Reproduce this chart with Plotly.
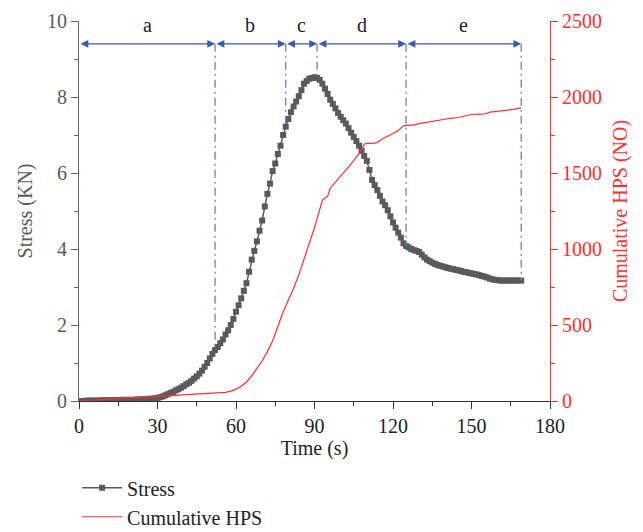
import plotly.graph_objects as go

# ---------------- data ----------------
time_s = list(range(0, 170))
stress_kn = [
    0.00, 0.00, 0.00, 0.01, 0.01, 0.01, 0.01, 0.01, 0.01, 0.02,
    0.02, 0.02, 0.02, 0.02, 0.02, 0.02, 0.03, 0.03, 0.03, 0.03,
    0.03, 0.03, 0.04, 0.04, 0.04, 0.05, 0.05, 0.06, 0.06, 0.07,
    0.08, 0.10, 0.12, 0.15, 0.18, 0.21, 0.24, 0.28, 0.31, 0.35,
    0.39, 0.44, 0.48, 0.53, 0.59, 0.65, 0.72, 0.80, 0.90, 1.00,
    1.12, 1.24, 1.34, 1.42, 1.52, 1.62, 1.75, 1.86, 2.00, 2.16,
    2.35, 2.52, 2.70, 2.90, 3.10, 3.40, 3.72, 3.95, 4.20, 4.48,
    4.75, 5.12, 5.45, 5.72, 6.05, 6.25, 6.50, 6.72, 7.00, 7.22,
    7.42, 7.60, 7.75, 7.88, 8.02, 8.18, 8.35, 8.42, 8.48, 8.50,
    8.52, 8.50, 8.45, 8.35, 8.22, 8.08, 7.93, 7.82, 7.70, 7.58,
    7.48, 7.39, 7.30, 7.18, 7.06, 6.95, 6.84, 6.72, 6.58, 6.45,
    6.32, 6.08, 5.82, 5.68, 5.55, 5.40, 5.25, 5.15, 5.02, 4.86,
    4.70, 4.56, 4.43, 4.30, 4.15, 4.08, 4.04, 4.00, 3.97, 3.95,
    3.92, 3.85, 3.78, 3.72, 3.68, 3.64, 3.61, 3.58, 3.56, 3.54,
    3.52, 3.50, 3.48, 3.47, 3.45, 3.44, 3.42, 3.40, 3.39, 3.37,
    3.36, 3.34, 3.33, 3.31, 3.29, 3.27, 3.25, 3.22, 3.20, 3.19,
    3.18, 3.17, 3.17, 3.17, 3.17, 3.17, 3.17, 3.17, 3.17, 3.17,
]

hps_time = [0, 5, 10, 15, 20, 25, 30, 35, 40, 45, 50, 53, 56, 58, 60, 62, 64, 66,
            68, 70, 72, 74, 76, 78, 80, 82, 84, 86, 88, 90, 91, 92, 93, 94, 95,
            96, 98, 100, 102, 104, 106, 108, 109, 110, 112, 114, 116, 118, 120,
            122, 124, 126, 128, 130, 133, 136, 139, 142, 145, 148, 150, 153, 155,
            157, 159, 162, 164, 166, 168, 169]
hps_count = [0, 6, 12, 17, 22, 26, 30, 35, 39, 42, 47, 51, 57, 65, 78, 97, 125, 165,
             215, 265, 325, 395, 490, 585, 665, 740, 830, 930, 1030, 1140, 1200, 1270,
             1320, 1335, 1345, 1400, 1440, 1475, 1515, 1560, 1605, 1650, 1690, 1695,
             1695, 1700, 1725, 1740, 1760, 1780, 1810, 1815, 1815, 1825, 1835, 1840,
             1852, 1860, 1865, 1878, 1885, 1887, 1888, 1900, 1903, 1910, 1915, 1918,
             1925, 1928]

phase_bounds = [0, 52, 79, 91, 125, 169]
phase_labels = ["a", "b", "c", "d", "e"]
arrow_level = 9.4
label_level = 9.9

# ---------------- style ----------------
FONT = "Liberation Serif"
FS = 20
GRAY = "#5a5a5a"
RED = "#ff3030"
BLUE = "#3d5aaf"
VBLUE = "#6b80c4"

fig = go.Figure()
fig.add_trace(go.Scatter(
    x=time_s, y=stress_kn, name="Stress", mode="lines+markers",
    line=dict(color=GRAY, width=1.5),
    marker=dict(symbol="square", size=6, color=GRAY),
))
fig.add_trace(go.Scatter(
    x=hps_time, y=hps_count, name="Cumulative HPS", mode="lines",
    line=dict(color=RED, width=1.2), yaxis="y2",
))

# vertical dash-dot boundaries (from arrow level down to stress curve)
for t in phase_bounds[1:]:
    s_val = stress_kn[time_s.index(t)]
    fig.add_shape(type="line", xref="x", yref="y", x0=t, x1=t,
                  y0=arrow_level, y1=s_val,
                  line=dict(color=VBLUE, width=1.3, dash="8px,4px,2px,4px"))

# double arrows and labels
for i, lab in enumerate(phase_labels):
    t0, t1 = phase_bounds[i], phase_bounds[i + 1]
    fig.add_annotation(x=t1, y=arrow_level, ax=t0, ay=arrow_level,
                       xref="x", yref="y", axref="x", ayref="y",
                       text="", showarrow=True, arrowhead=2, arrowside="end+start",
                       arrowsize=1.2, arrowwidth=1.3, arrowcolor=BLUE,
                       standoff=0, startstandoff=0)
    fig.add_annotation(x=(t0 + t1) / 2, y=label_level, xref="x", yref="y",
                       text=lab, showarrow=False,
                       font=dict(family=FONT, size=FS, color="#222"))

fig.update_layout(
    width=643, height=532,
    margin=dict(l=79, r=93, t=21, b=131, autoexpand=False),
    paper_bgcolor="white", plot_bgcolor="white",
    font=dict(family=FONT, size=FS, color="#222"),
    showlegend=True,
    legend=dict(x=-0.004, y=-0.177, xanchor="left", yanchor="top",
                font=dict(family=FONT, size=FS, color="#222"),
                bgcolor="rgba(0,0,0,0)", tracegroupgap=0, itemwidth=40),
    xaxis=dict(range=[0, 180], tickvals=[0, 30, 60, 90, 120, 150, 180],
               showgrid=False, zeroline=False, showline=True,
               linecolor="#333", linewidth=1.2, ticks="outside", ticklen=7,
               tickcolor="#333", tickwidth=1.2,
               minor=dict(dtick=15, ticks="outside", ticklen=4, tickcolor="#333",
                          showgrid=False),
               title=dict(text="Time (s)", standoff=4,
                          font=dict(family=FONT, size=FS, color="#222")),
               tickfont=dict(family=FONT, size=FS, color="#222")),
    yaxis=dict(range=[0, 10], tickvals=[0, 2, 4, 6, 8, 10],
               showgrid=False, zeroline=False, showline=True,
               linecolor="#666", linewidth=1.2, ticks="outside", ticklen=7,
               tickcolor="#666", tickwidth=1.2,
               minor=dict(dtick=1, ticks="outside", ticklen=4, tickcolor="#666",
                          showgrid=False),
               title=dict(text="Stress (KN)", standoff=8,
                          font=dict(family=FONT, size=FS, color=GRAY)),
               tickfont=dict(family=FONT, size=FS, color=GRAY)),
    yaxis2=dict(range=[0, 2500], tickvals=[0, 500, 1000, 1500, 2000, 2500],
                overlaying="y", side="right", anchor="x",
                showgrid=False, zeroline=False, showline=True,
                linecolor=RED, linewidth=1.2, ticks="outside", ticklen=7,
                tickcolor=RED, tickwidth=1.2,
                minor=dict(dtick=250, ticks="outside", ticklen=4, tickcolor=RED,
                           showgrid=False),
                title=dict(text="Cumulative HPS (NO)", standoff=11,
                           font=dict(family=FONT, size=FS, color=RED)),
                tickfont=dict(family=FONT, size=FS, color=RED)),
)

# remove the browser's default 8px body margin so the figure fills the window exactly
fig.write_html("out.html",
               config={"displayModeBar": False},
               post_script="document.body.style.margin='0';"
                           "document.body.style.overflow='hidden';")
